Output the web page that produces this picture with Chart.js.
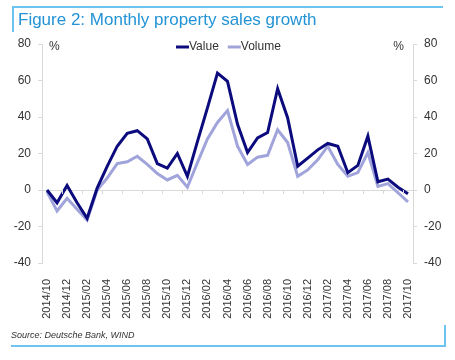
<!DOCTYPE html>
<html>
<head>
<meta charset="utf-8">
<script src="https://cdn.jsdelivr.net/npm/chart.js@4.4.1/dist/chart.umd.min.js"></script>
<style>
  body { margin: 0; background: #fff; font-family: "Liberation Sans", Arial, sans-serif; }
  #wrap { position: relative; width: 455px; height: 360px; overflow: hidden; }
  #chart { position: absolute; left: 0; top: 0; }
  #title {
    position: absolute; left: 12px; top: 6px; width: 431px; height: 26px;
    border-top: 2px solid #6cc4ef; border-left: 2px solid #6cc4ef;
    box-sizing: border-box; padding-left: 4px; padding-top: 2px;
    font-size: 17px; color: #2393d5; white-space: nowrap;
  }
  #source {
    position: absolute; left: 11px; top: 325px; width: 435px; height: 22px;
    border-right: 2px solid #6cc4ef; border-bottom: 2px solid #6cc4ef;
    box-sizing: border-box; padding-top: 5px;
    font-size: 9px; font-style: italic; color: #333;
  }
</style>
</head>
<body>
<div id="wrap">
  <canvas id="chart" width="455" height="360"></canvas>
  <div id="title">Figure 2: Monthly property sales growth</div>
  <div id="source">Source: Deutsche Bank, WIND</div>
</div>
<script>
// monthly labels, 2014/10 .. 2017/10
const months = [
  "2014/10","2014/11","2014/12","2015/01","2015/02","2015/03","2015/04","2015/05","2015/06","2015/07",
  "2015/08","2015/09","2015/10","2015/11","2015/12","2016/01","2016/02","2016/03","2016/04","2016/05",
  "2016/06","2016/07","2016/08","2016/09","2016/10","2016/11","2016/12","2017/01","2017/02","2017/03",
  "2017/04","2017/05","2017/06","2017/07","2017/08","2017/09","2017/10"
];

// yoy growth, %
const valueGrowth = [
  0, -7, 2.5, -7, -15.5, 1, 13, 24, 31, 32.5,
  28, 14.5, 12, 20, 7.5, 26.5, 45, 64, 59.5, 36,
  20.5, 28.5, 31.5, 55.5, 39.5, 13, 17.5, 22, 25.5, 24,
  9.5, 13.5, 29.5, 4.5, 6, 1.5, -2
];
const volumeGrowth = [
  -1, -11.5, -4.5, -10.5, -16.5, 0, 6.5, 14.5, 15.5, 18.5,
  14, 9, 5.5, 8, 1.5, 15, 28, 37, 43.5, 24,
  14, 18, 19, 33, 26, 7.5, 11, 16.5, 24, 14,
  7.5, 9.5, 20.5, 2, 3.5, -1.5, -6.5
];

const yMin = -40, yMax = 80, yStep = 20;

const VALUE_COLOR = "#0b0b7e";
const VOLUME_COLOR = "#a0a4db";
const AXIS_COLOR = "#d9d9d9";
const TEXT_COLOR = "#333333";
const FONT = "'Liberation Sans', Arial, sans-serif";

// legend, % labels and the small ticks on the zero line
const extras = {
  id: "extras",
  afterDraw(chart) {
    const ctx = chart.ctx;
    const area = chart.chartArea;
    const x = chart.scales.x;
    const y = chart.scales.y;
    ctx.save();

    // ticks on zero line, every 2 months
    const y0 = y.getPixelForValue(0);
    ctx.strokeStyle = AXIS_COLOR;
    ctx.lineWidth = 1;
    for (let i = 0; i <= months.length; i += 2) {
      const px = Math.round(x.getPixelForValue(i - 0.5)) + 0.5;
      ctx.beginPath();
      ctx.moveTo(px, y0);
      ctx.lineTo(px, y0 + 4);
      ctx.stroke();
    }

    ctx.font = "12px " + FONT;
    ctx.fillStyle = TEXT_COLOR;
    ctx.textBaseline = "middle";
    ctx.textAlign = "left";
    ctx.fillText("%", area.left + 7, area.top + 3);
    ctx.textAlign = "right";
    ctx.fillText("%", area.right - 9, area.top + 3);

    // legend
    let lx = 176;
    const ly = area.top + 3;
    ctx.textAlign = "left";
    chart.data.datasets.forEach(ds => {
      ctx.strokeStyle = ds.borderColor;
      ctx.lineWidth = 3;
      ctx.beginPath();
      ctx.moveTo(lx, ly);
      ctx.lineTo(lx + 13, ly);
      ctx.stroke();
      ctx.fillStyle = TEXT_COLOR;
      ctx.fillText(ds.label, lx + 13, ly);
      lx += 13 + ctx.measureText(ds.label).width + 9;
    });
    ctx.restore();
  }
};

new Chart(document.getElementById("chart"), {
  type: "line",
  data: {
    labels: months,
    datasets: [
      { label: "Value", data: valueGrowth, borderColor: VALUE_COLOR, borderWidth: 3, pointRadius: 0, tension: 0, yAxisID: "y" },
      { label: "Volume", data: volumeGrowth, borderColor: VOLUME_COLOR, borderWidth: 3, pointRadius: 0, tension: 0, yAxisID: "y" }
    ]
  },
  options: {
    responsive: false,
    animation: false,
    devicePixelRatio: 1,
    layout: { padding: { top: 44, left: 0, right: 0, bottom: 0 } },
    plugins: { legend: { display: false }, tooltip: { enabled: false } },
    scales: {
      x: {
        offset: true,
        grid: { display: false },
        border: { display: false },
        ticks: {
          autoSkip: false,
          minRotation: 90, maxRotation: 90,
          padding: 8,
          color: TEXT_COLOR,
          font: { family: FONT, size: 11 },
          callback: (v, i) => (i % 2 === 0 ? months[i] : "")
        },
        afterFit: s => { s.height = 97; }
      },
      y: {
        position: "left",
        min: yMin, max: yMax,
        ticks: { stepSize: yStep, padding: 7, color: TEXT_COLOR, font: { family: FONT, size: 12 } },
        grid: {
          drawOnChartArea: true,
          color: c => (c.tick && c.tick.value === 0 ? AXIS_COLOR : "rgba(0,0,0,0)"),
          tickColor: AXIS_COLOR,
          tickLength: 4
        },
        border: { color: AXIS_COLOR },
        afterFit: s => { s.width = 42; }
      },
      y2: {
        position: "right",
        min: yMin, max: yMax,
        ticks: { stepSize: yStep, padding: 7, color: TEXT_COLOR, font: { family: FONT, size: 12 } },
        grid: { drawOnChartArea: false, tickColor: AXIS_COLOR, tickLength: 4 },
        border: { color: AXIS_COLOR },
        afterFit: s => { s.width = 42; }
      }
    }
  },
  plugins: [extras]
});
</script>
</body>
</html>
